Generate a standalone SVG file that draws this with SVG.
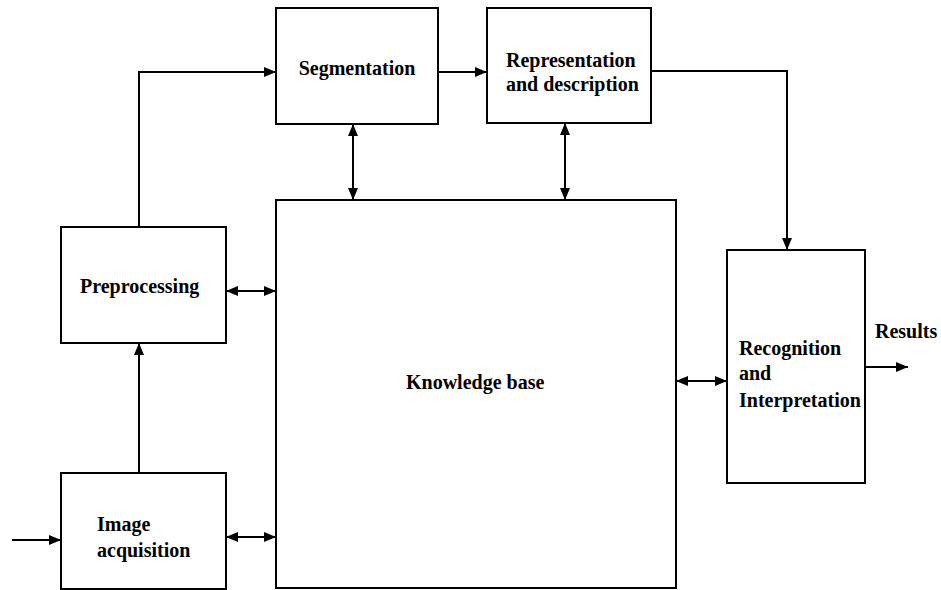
<svg xmlns="http://www.w3.org/2000/svg" width="941" height="590" viewBox="0 0 941 590">
<style>
.box{fill:#fff;stroke:#000;stroke-width:2}
.ln{fill:none;stroke:#000;stroke-width:2}
text{font-family:"Liberation Serif","Times New Roman",serif;font-weight:bold;font-size:20px;fill:#000}
</style>
<defs>
<marker id="ah" markerUnits="userSpaceOnUse" markerWidth="12" markerHeight="10" viewBox="0 0 12 10" refX="12" refY="5" orient="auto-start-reverse">
<path d="M0,0 L12,5 L0,10 Z" fill="#000"/>
</marker>
</defs>
<rect width="941" height="590" fill="#fff"/>
<g id="connectors">
<path class="ln" d="M139,227 V72 H276" marker-end="url(#ah)"/>
<path class="ln" d="M438,72 H487" marker-end="url(#ah)"/>
<path class="ln" d="M651,71 H787 V250" marker-end="url(#ah)"/>
<path class="ln" d="M353,124 V200" marker-start="url(#ah)" marker-end="url(#ah)"/>
<path class="ln" d="M565,123 V200" marker-start="url(#ah)" marker-end="url(#ah)"/>
<path class="ln" d="M226,291 H276" marker-start="url(#ah)" marker-end="url(#ah)"/>
<path class="ln" d="M139,473 V343" marker-end="url(#ah)"/>
<path class="ln" d="M226,537 H276" marker-start="url(#ah)" marker-end="url(#ah)"/>
<path class="ln" d="M12,540 H61" marker-end="url(#ah)"/>
<path class="ln" d="M676,381 H727" marker-start="url(#ah)" marker-end="url(#ah)"/>
<path class="ln" d="M865,367 H908" marker-end="url(#ah)"/>
</g>
<g id="segmentation">
<rect class="box" x="276" y="8" width="162" height="116"/>
<text x="357" y="75" text-anchor="middle">Segmentation</text>
</g>
<g id="representation">
<rect class="box" x="487" y="8" width="164" height="115"/>
<text x="506" y="67">Representation</text>
<text x="506" y="91">and description</text>
</g>
<g id="knowledge-base">
<rect class="box" x="276" y="200" width="400" height="388"/>
<text x="406" y="389">Knowledge base</text>
</g>
<g id="preprocessing">
<rect class="box" x="61" y="227" width="165" height="116"/>
<text x="80" y="293">Preprocessing</text>
</g>
<g id="image-acquisition">
<rect class="box" x="61" y="473" width="165" height="116"/>
<text x="97" y="531">Image</text>
<text x="97" y="557">acquisition</text>
</g>
<g id="recognition">
<rect class="box" x="727" y="250" width="138" height="233"/>
<text x="739" y="355">Recognition</text>
<text x="739" y="380">and</text>
<text x="739" y="407">Interpretation</text>
</g>
<g id="results">
<text x="875" y="338">Results</text>
</g>
</svg>
